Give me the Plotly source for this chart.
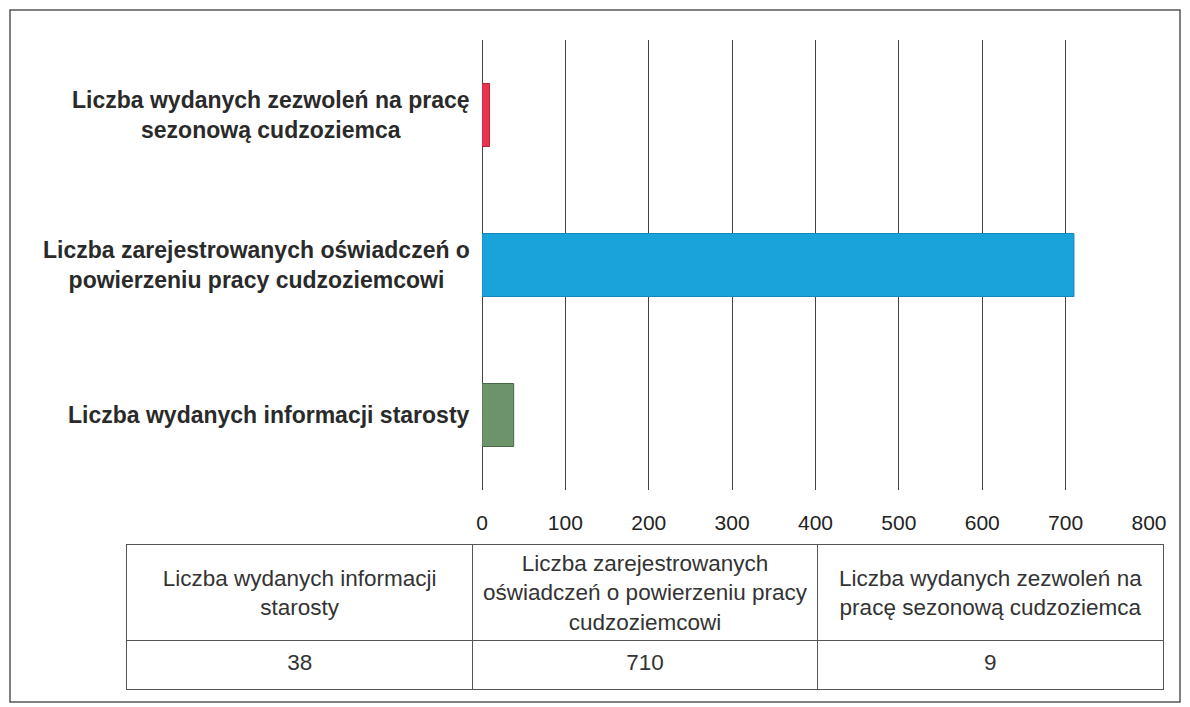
import plotly.graph_objects as go

# ---- data ----
categories = [
    "Liczba wydanych informacji starosty",
    "Liczba zarejestrowanych oświadczeń o powierzeniu pracy cudzoziemcowi",
    "Liczba wydanych zezwoleń na pracę sezonową cudzoziemca",
]
values = [38, 710, 9]
axis_labels = [
    "Liczba wydanych informacji starosty",
    "Liczba zarejestrowanych oświadczeń o<br>powierzeniu pracy cudzoziemcowi",
    "Liczba wydanych zezwoleń na pracę<br>sezonową cudzoziemca",
]
table_headers = [
    "Liczba wydanych informacji<br>starosty",
    "Liczba zarejestrowanych<br>oświadczeń o powierzeniu pracy<br>cudzoziemcowi",
    "Liczba wydanych zezwoleń na<br>pracę sezonową cudzoziemca",
]
x_ticks = [0, 100, 200, 300, 400, 500, 600, 700, 800]
bar_colors = ["#6C936A", "#1AA2DA", "#E8344E"]
bar_lines = ["#4A6848", "#1387B8", "#B8223A"]

W, H = 1190, 707
def px_x(p): return p / W
def px_y(p): return 1 - p / H

TFONT = "Liberation Sans, Arial"
LINE = "#555555"

# table geometry (in table-axis units: columns 1 wide, rows in px)
n_cols = len(categories)
val_row_h, head_row_h = 48, 95
col_centers = [i + 0.5 for i in range(n_cols)]

fig = go.Figure()
fig.add_trace(go.Bar(
    y=categories, x=values, orientation="h",
    marker=dict(color=bar_colors, line=dict(color=bar_lines, width=1)),
    width=0.42, showlegend=False, hoverinfo="x+y",
))

# data table drawn on its own axes
fig.add_trace(go.Scatter(
    x=col_centers, y=[val_row_h + head_row_h / 2 - 2] * n_cols,
    text=table_headers, mode="text", textposition="middle center",
    textfont=dict(family=TFONT, size=22.5, color="#333333"),
    xaxis="x2", yaxis="y2", showlegend=False, hoverinfo="skip",
))
fig.add_trace(go.Scatter(
    x=col_centers, y=[val_row_h / 2] * n_cols,
    text=[str(v) for v in values], mode="text", textposition="middle center",
    textfont=dict(family=TFONT, size=22.5, color="#333333"),
    xaxis="x2", yaxis="y2", showlegend=False, hoverinfo="skip",
))

# category labels (centered multi-line, right-anchored next to the axis)
for cat, lab in zip(categories, axis_labels):
    fig.add_annotation(
        x=px_x(472), xref="paper", y=cat, yref="y",
        text="<b>" + lab.replace("<br>", "</b><br><b>") + "</b>",
        showarrow=False, xanchor="right", yanchor="middle",
        align="center",
        font=dict(family="Liberation Sans, Arial", size=23, color="#2a2a2a"),
    )

fig.update_layout(
    width=W, height=H,
    margin=dict(l=0, r=0, t=0, b=0, autoexpand=False),
    paper_bgcolor="white", plot_bgcolor="rgba(0,0,0,0)",
    xaxis=dict(
        domain=[px_x(482), px_x(1149)], automargin=False,
        range=[0, 800], tickvals=x_ticks,
        showgrid=True, gridcolor="#444444", gridwidth=1,
        zeroline=True, zerolinecolor="#444444", zerolinewidth=1,
        showline=False, ticks="", ticklabelstandoff=18,
        tickfont=dict(family=TFONT, size=21, color="#222222"),
        fixedrange=True,
    ),
    yaxis=dict(
        domain=[px_y(490), px_y(40)], automargin=False,
        showticklabels=False, showgrid=False, zeroline=False, showline=False,
        categoryorder="array", categoryarray=categories, fixedrange=True,
    ),
    xaxis2=dict(
        domain=[px_x(127), px_x(1163)], anchor="y2", automargin=False,
        range=[0, n_cols], tickvals=list(range(n_cols + 1)),
        showgrid=True, gridcolor=LINE, gridwidth=1,
        showline=True, linecolor=LINE, linewidth=1, mirror=True,
        zeroline=False, showticklabels=False, ticks="", fixedrange=True,
    ),
    yaxis2=dict(
        domain=[px_y(689), px_y(545)], anchor="x2", automargin=False,
        range=[0, val_row_h + head_row_h], tickvals=[val_row_h],
        showgrid=True, gridcolor=LINE, gridwidth=1,
        showline=True, linecolor=LINE, linewidth=1, mirror=True,
        zeroline=False, showticklabels=False, ticks="", fixedrange=True,
    ),
    shapes=[
        dict(type="rect", xref="paper", yref="paper",
             x0=px_x(10), x1=px_x(1180), y0=px_y(702), y1=px_y(10),
             line=dict(color=LINE, width=1.5)),
    ],
)

fig.write_html(
    "out.html",
    config={"displayModeBar": False},
    post_script="document.body.style.margin='0';document.body.style.overflow='hidden';",
)
